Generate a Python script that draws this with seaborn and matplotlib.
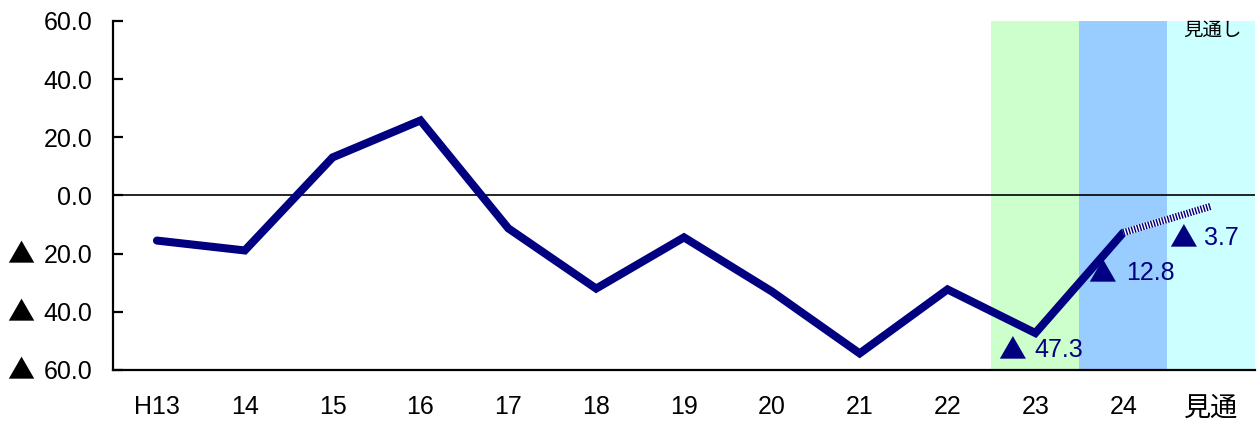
import matplotlib
matplotlib.use("Agg")
import matplotlib.pyplot as plt
import matplotlib.transforms as mtransforms
from matplotlib.ticker import FuncFormatter
import numpy as np
import pandas as pd
import seaborn as sns

# Fiscal-year labels and yearly values (negative values shown with ▲)
categories = ["H13", "14", "15", "16", "17", "18", "19", "20", "21", "22", "23", "24", "見通"]
values = [-15.5, -18.9, 13.1, 25.8, -11.3, -32.0, -14.4, -33.0, -54.3, -32.3, -47.3, -12.8, -3.7]
labelled = ["23", "24", "見通"]
band_colors = {"23": "#CCFFCC", "24": "#99CCFF", "見通": "#CCFFFF"}
yticks = [60, 40, 20, 0, -20, -40, -60]

sns.set_theme(style="white")
plt.rcParams["font.family"] = ["Liberation Sans", "Noto Sans CJK JP", "DejaVu Sans"]
cjk = ["Noto Sans CJK JP", "DejaVu Sans"]

df = pd.DataFrame({"cat": categories, "val": values})
df["pos"] = np.arange(len(df))
actual = df.iloc[:-1]
outlook = df.iloc[-2:]

fig = plt.figure(figsize=(12.6, 4.23), dpi=100)
ax = fig.add_axes([0.0897, 0.1253, 0.9063, 0.8251])

# Shaded columns for the most recent years and the outlook
for cat, col in band_colors.items():
    p = categories.index(cat)
    ax.axvspan(p - 0.5, p + 0.5, color=col, lw=0, zorder=0)

ax.axhline(0, color="black", lw=1.2, zorder=1)

navy = "#000080"
sns.lineplot(data=actual, x="pos", y="val", ax=ax, color=navy, lw=5.8,
             solid_capstyle="round", solid_joinstyle="miter", zorder=3)
# Outlook segment drawn with a fine striped pattern
sns.lineplot(data=outlook, x="pos", y="val", ax=ax, color="white", lw=5.2,
             solid_capstyle="butt", zorder=3)
sns.lineplot(data=outlook, x="pos", y="val", ax=ax, color=navy, lw=5.2,
             dashes=[(0.2, 0.2)], style=np.zeros(2), legend=False, zorder=4)

# Value labels: ▲ marker for negatives, followed by the magnitude
# offsets in points: (number left edge dx, triangle centre dx, dy)
offsets = {"23": (-0.7, -16.5, -12.2), "24": (2.2, -15.1, -28.8), "見通": (-5.0, -20.2, -23.0)}
for cat in labelled:
    p = categories.index(cat)
    v = values[p]
    nx, tx, dy = offsets[cat]
    ax.annotate(f"{abs(v):.1f}", (p, v), xytext=(nx, dy), textcoords="offset points",
                color=navy, fontsize=18, ha="left", va="center", zorder=5)
    if v < 0:
        ax.annotate("▲", (p, v), xytext=(tx, dy - 1.0), textcoords="offset points",
                    color=navy, fontsize=20, family=cjk, ha="center", va="center", zorder=5)

ax.text(len(categories) - 1 + 0.02, 56.7, "見通し", color="black", fontsize=14,
        family=cjk, ha="center", va="center", zorder=5)

ax.set_xlim(-0.5, len(categories) - 0.5)
ax.set_ylim(-60, 60)
ax.set_yticks(yticks)
ax.yaxis.set_major_formatter(FuncFormatter(lambda v, _: f"{abs(v):.1f}"))
# ▲ sign in front of negative tick values
blend = mtransforms.blended_transform_factory(ax.transAxes, ax.transData)
for t in yticks:
    if t < 0:
        ax.text(-0.0806, t - 0.8, "▲", transform=blend, fontsize=19.5, family=cjk,
                ha="center", va="center", color="black")
ax.set_xticks(range(len(categories)))
ax.set_xticklabels(categories)
ax.set_xlabel("")
ax.set_ylabel("")

for s in ["top", "right"]:
    ax.spines[s].set_visible(False)
for s in ["left", "bottom"]:
    ax.spines[s].set_color("black")
    ax.spines[s].set_linewidth(1.6)

ax.tick_params(axis="y", direction="in", length=7.5, width=1.6, colors="black",
               labelsize=18, pad=15, left=True)
ax.tick_params(axis="x", length=0, labelsize=18, pad=18, colors="black")
lab = ax.get_xticklabels()[-1]
lab.set_fontsize(19.5)
lab.set_family(cjk)
ax.grid(False)

fig.savefig("out.png", dpi=100)
